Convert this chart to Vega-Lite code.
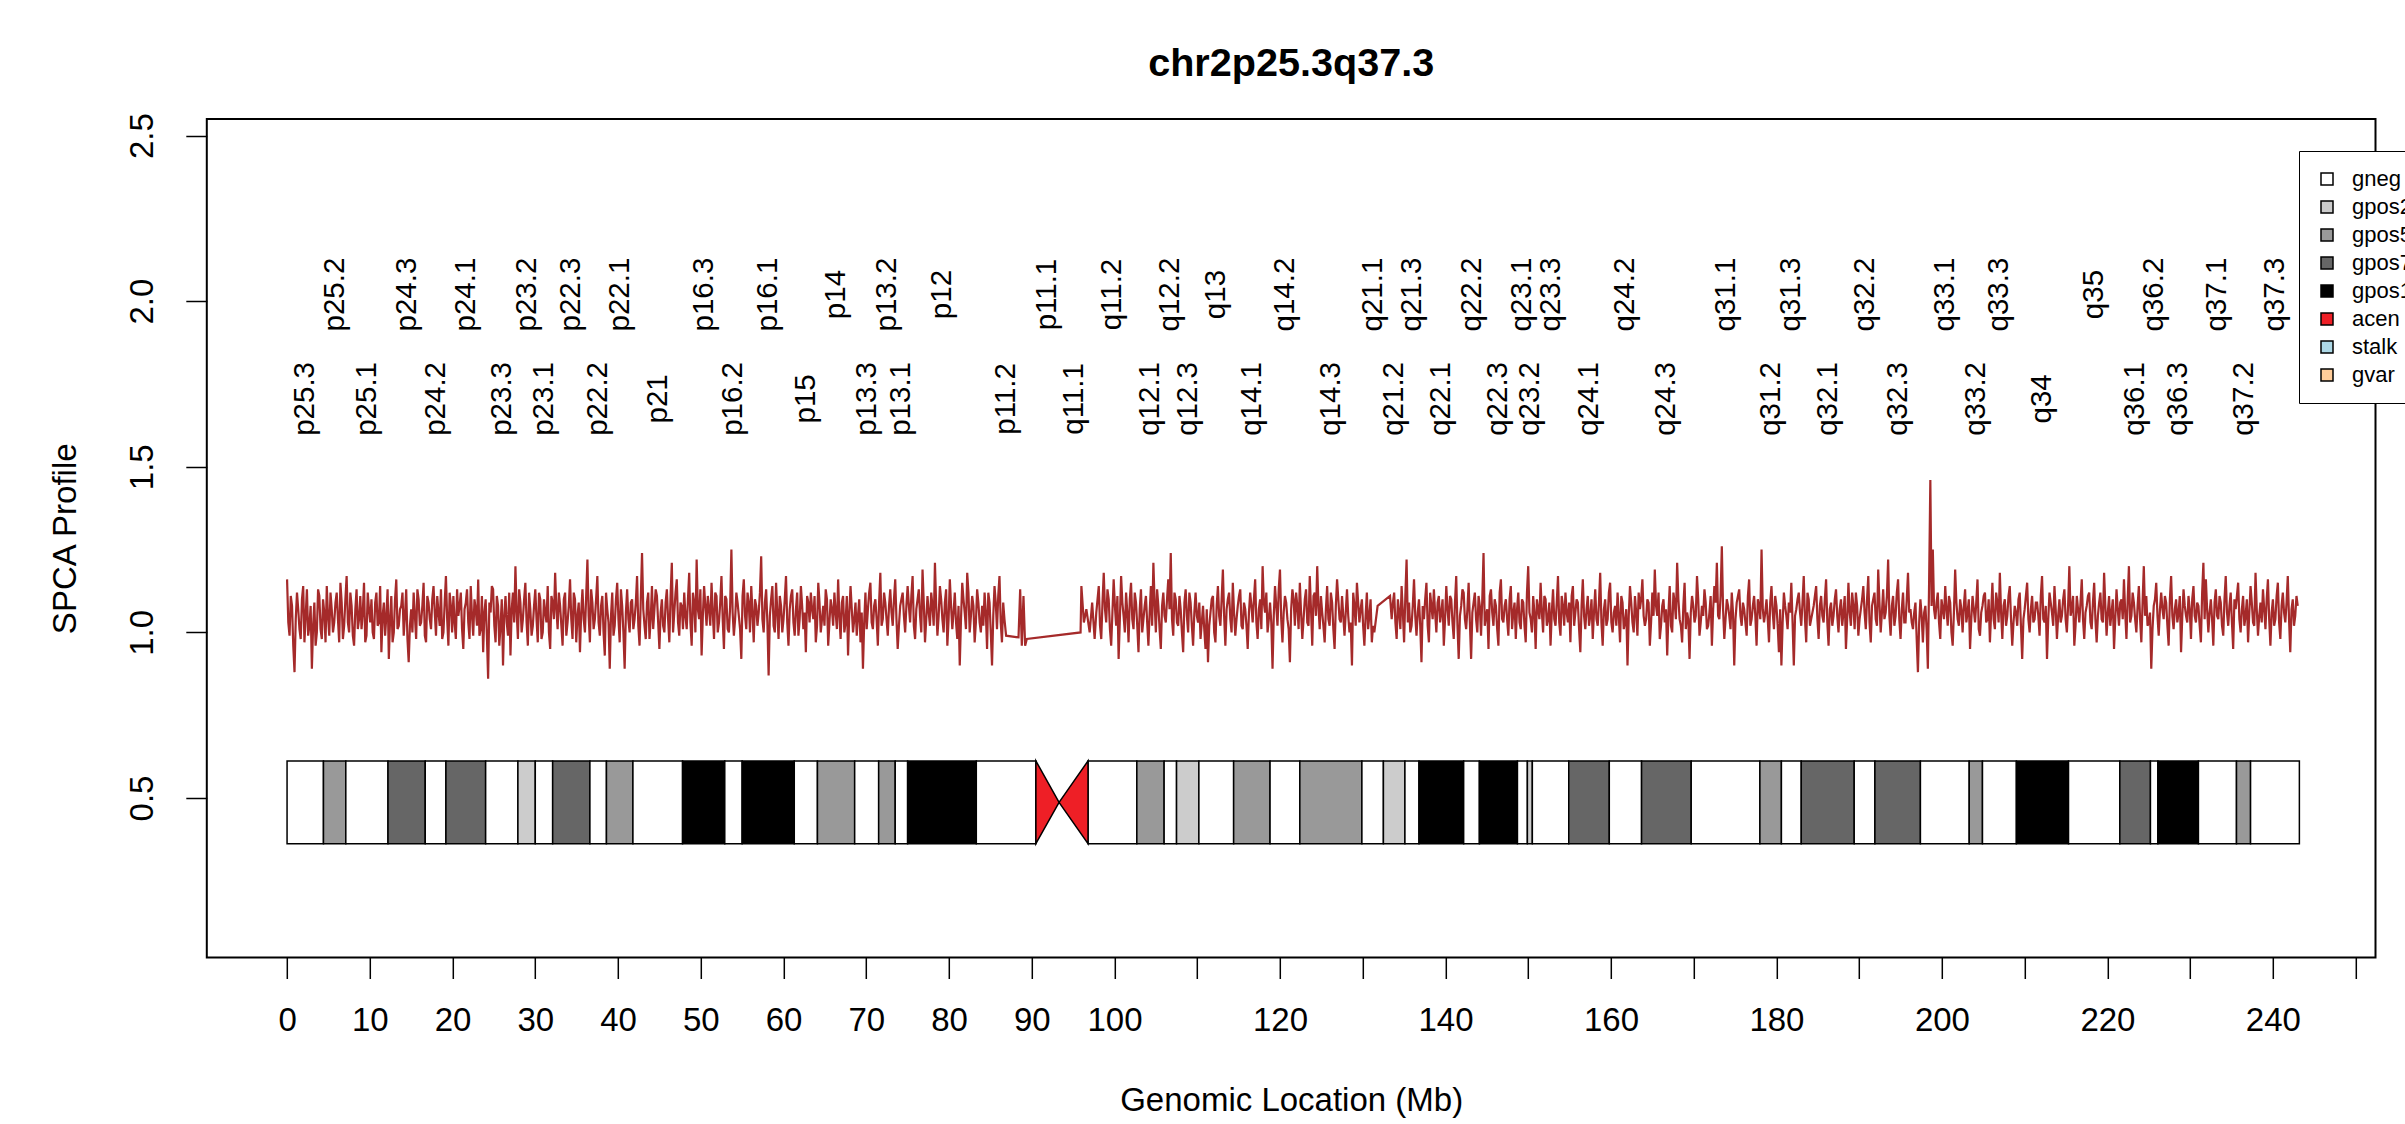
{
"$schema":"https://vega.github.io/schema/vega-lite/v6.json",
"width":2168.7,"height":838.5,
"autosize":{"type":"none"},
"padding":{"left":206.8,"top":119,"right":29.5,"bottom":166.5},
"background":"white",
"config":{"view":{"stroke":"black","strokeWidth":2},"font":"Liberation Sans"},
"title":{"text":"chr2p25.3q37.3","fontSize":39.6,"fontWeight":"bold","font":"Liberation Sans","anchor":"middle","frame":"group","baseline":"alphabetic","offset":-3,"color":"black"},
"datasets":{
"bands":[
{"name":"p25.3","start":0,"end":4.4,"stain":"gneg"},
{"name":"p25.2","start":4.4,"end":7.1,"stain":"gpos50"},
{"name":"p25.1","start":7.1,"end":12.2,"stain":"gneg"},
{"name":"p24.3","start":12.2,"end":16.7,"stain":"gpos75"},
{"name":"p24.2","start":16.7,"end":19.2,"stain":"gneg"},
{"name":"p24.1","start":19.2,"end":24.0,"stain":"gpos75"},
{"name":"p23.3","start":24.0,"end":27.9,"stain":"gneg"},
{"name":"p23.2","start":27.9,"end":30.0,"stain":"gpos25"},
{"name":"p23.1","start":30.0,"end":32.1,"stain":"gneg"},
{"name":"p22.3","start":32.1,"end":36.6,"stain":"gpos75"},
{"name":"p22.2","start":36.6,"end":38.6,"stain":"gneg"},
{"name":"p22.1","start":38.6,"end":41.8,"stain":"gpos50"},
{"name":"p21","start":41.8,"end":47.8,"stain":"gneg"},
{"name":"p16.3","start":47.8,"end":52.9,"stain":"gpos100"},
{"name":"p16.2","start":52.9,"end":55.0,"stain":"gneg"},
{"name":"p16.1","start":55.0,"end":61.3,"stain":"gpos100"},
{"name":"p15","start":61.3,"end":64.1,"stain":"gneg"},
{"name":"p14","start":64.1,"end":68.6,"stain":"gpos50"},
{"name":"p13.3","start":68.6,"end":71.5,"stain":"gneg"},
{"name":"p13.2","start":71.5,"end":73.5,"stain":"gpos50"},
{"name":"p13.1","start":73.5,"end":75.0,"stain":"gneg"},
{"name":"p12","start":75.0,"end":83.3,"stain":"gpos100"},
{"name":"p11.2","start":83.3,"end":90.5,"stain":"gneg"},
{"name":"p11.1","start":90.5,"end":93.3,"stain":"acen"},
{"name":"q11.1","start":93.3,"end":96.8,"stain":"acen"},
{"name":"q11.2","start":96.8,"end":102.7,"stain":"gneg"},
{"name":"q12.1","start":102.7,"end":106.0,"stain":"gpos50"},
{"name":"q12.2","start":106.0,"end":107.5,"stain":"gneg"},
{"name":"q12.3","start":107.5,"end":110.2,"stain":"gpos25"},
{"name":"q13","start":110.2,"end":114.4,"stain":"gneg"},
{"name":"q14.1","start":114.4,"end":118.8,"stain":"gpos50"},
{"name":"q14.2","start":118.8,"end":122.4,"stain":"gneg"},
{"name":"q14.3","start":122.4,"end":129.9,"stain":"gpos50"},
{"name":"q21.1","start":129.9,"end":132.5,"stain":"gneg"},
{"name":"q21.2","start":132.5,"end":135.1,"stain":"gpos25"},
{"name":"q21.3","start":135.1,"end":136.8,"stain":"gneg"},
{"name":"q22.1","start":136.8,"end":142.2,"stain":"gpos100"},
{"name":"q22.2","start":142.2,"end":144.1,"stain":"gneg"},
{"name":"q22.3","start":144.1,"end":148.7,"stain":"gpos100"},
{"name":"q23.1","start":148.7,"end":149.9,"stain":"gneg"},
{"name":"q23.2","start":149.9,"end":150.5,"stain":"gpos25"},
{"name":"q23.3","start":150.5,"end":154.9,"stain":"gneg"},
{"name":"q24.1","start":154.9,"end":159.8,"stain":"gpos75"},
{"name":"q24.2","start":159.8,"end":163.7,"stain":"gneg"},
{"name":"q24.3","start":163.7,"end":169.7,"stain":"gpos75"},
{"name":"q31.1","start":169.7,"end":178.0,"stain":"gneg"},
{"name":"q31.2","start":178.0,"end":180.6,"stain":"gpos50"},
{"name":"q31.3","start":180.6,"end":183.0,"stain":"gneg"},
{"name":"q32.1","start":183.0,"end":189.4,"stain":"gpos75"},
{"name":"q32.2","start":189.4,"end":191.9,"stain":"gneg"},
{"name":"q32.3","start":191.9,"end":197.4,"stain":"gpos75"},
{"name":"q33.1","start":197.4,"end":203.3,"stain":"gneg"},
{"name":"q33.2","start":203.3,"end":204.9,"stain":"gpos50"},
{"name":"q33.3","start":204.9,"end":209.0,"stain":"gneg"},
{"name":"q34","start":209.0,"end":215.3,"stain":"gpos100"},
{"name":"q35","start":215.3,"end":221.5,"stain":"gneg"},
{"name":"q36.1","start":221.5,"end":225.2,"stain":"gpos75"},
{"name":"q36.2","start":225.2,"end":226.1,"stain":"gneg"},
{"name":"q36.3","start":226.1,"end":231.0,"stain":"gpos100"},
{"name":"q37.1","start":231.0,"end":235.6,"stain":"gneg"},
{"name":"q37.2","start":235.6,"end":237.3,"stain":"gpos50"},
{"name":"q37.3","start":237.3,"end":243.2,"stain":"gneg"}
],
"cen":[
{"pos":90.5,"hi":0.612,"lo":0.362},
{"pos":93.3,"hi":0.487,"lo":0.487},
{"pos":96.8,"hi":0.612,"lo":0.362}
]
},
"layer":[
{"mark":{"type":"rule","color":"#BEBEBE","strokeWidth":2},
 "encoding":{"y":{"datum":1,"type":"quantitative","scale":{"domain":[0.0185,2.55],"nice":false,"zero":false}}}},
{"data":{"values":"p,v\n0,1.16\n0.3,0.99\n0.6,1.08\n0.9,0.88\n1.2,1.12\n1.5,1.01\n1.8,1.10\n2.1,0.97\n2.4,1.13\n2.7,1.02\n3,0.89\n3.3,1.09\n3.6,1.00\n3.9,1.11\n4.2,0.98\n4.5,1.06\n4.8,1.14\n5.1,0.99\n5.4,1.07\n5.7,1.03\n6,1.12\n6.3,0.97\n6.6,1.09\n6.9,1.02\n7.2,1.17\n7.5,1.00\n7.8,1.08\n8.1,0.96\n8.4,1.13\n8.7,1.04\n9,1.01\n9.3,1.15\n9.6,0.99\n9.9,1.07\n10.2,1.10\n10.5,0.98\n10.8,1.12\n11.1,1.03\n11.4,0.94\n11.7,1.09\n12,1.05\n12.3,0.92\n12.6,1.11\n12.9,1.00\n13.2,1.16\n13.5,1.02\n13.8,1.08\n14.1,0.99\n14.4,1.13\n14.7,0.91\n15,1.07\n15.3,1.12\n15.6,0.98\n15.9,1.10\n16.2,1.03\n16.5,1.15\n16.8,0.97\n17.1,1.09\n17.4,1.01\n17.7,1.14\n18,0.99\n18.3,1.06\n18.6,1.13\n18.9,1.00\n19.2,1.17\n19.5,0.96\n19.8,1.08\n20.1,1.11\n20.4,0.98\n20.7,1.05\n21,1.12\n21.3,0.95\n21.6,1.09\n21.9,1.03\n22.2,1.14\n22.5,0.99\n22.8,1.07\n23.1,1.16\n23.4,1.01\n23.7,0.94\n24,1.10\n24.3,0.86\n24.6,1.06\n24.9,1.13\n25.2,0.97\n25.5,1.08\n25.8,1.02\n26.1,0.90\n26.4,1.11\n26.7,0.99\n27,0.93\n27.3,1.12\n27.6,1.20\n27.9,0.98\n28.2,1.09\n28.5,1.04\n28.8,1.15\n29.1,0.96\n29.4,1.07\n29.7,1.02\n30,1.13\n30.3,0.97\n30.6,1.10\n30.9,1.00\n31.2,1.06\n31.5,1.14\n31.8,0.95\n32.1,1.09\n32.4,1.18\n32.7,1.01\n33,1.08\n33.3,0.96\n33.6,1.12\n33.9,1.03\n34.2,1.16\n34.5,0.98\n34.8,1.10\n35.1,1.05\n35.4,0.94\n35.7,1.13\n36,1.00\n36.3,1.22\n36.6,0.97\n36.9,1.09\n37.2,1.04\n37.5,1.17\n37.8,0.99\n38.1,1.11\n38.4,0.93\n38.7,1.07\n39,0.89\n39.3,1.12\n39.6,1.02\n39.9,1.15\n40.2,0.97\n40.5,1.08\n40.8,0.89\n41.1,1.13\n41.4,1.00\n41.7,1.10\n42,1.04\n42.3,1.17\n42.6,0.96\n42.9,1.24\n43.2,1.02\n43.5,1.09\n43.8,0.98\n44.1,1.14\n44.4,1.07\n44.7,1.11\n45,0.95\n45.3,1.10\n45.6,1.00\n45.9,1.13\n46.2,0.97\n46.5,1.21\n46.8,1.06\n47.1,1.16\n47.4,0.99\n47.7,1.08\n48,1.12\n48.3,1.01\n48.6,1.18\n48.9,0.96\n49.2,1.09\n49.5,1.22\n49.8,1.04\n50.1,0.93\n50.4,1.14\n50.7,1.02\n51,1.07\n51.3,1.15\n51.6,0.98\n51.9,1.11\n52.2,1.03\n52.5,1.17\n52.8,0.95\n53.1,1.10\n53.4,1.00\n53.7,1.25\n54,0.99\n54.3,1.12\n54.6,1.05\n54.9,0.92\n55.2,1.16\n55.5,1.01\n55.8,1.09\n56.1,1.14\n56.4,0.97\n56.7,1.08\n57,1.06\n57.3,1.23\n57.6,1.00\n57.9,1.13\n58.2,0.87\n58.5,1.10\n58.8,1.02\n59.1,1.15\n59.4,0.98\n59.7,1.08\n60,1.04\n60.3,1.17\n60.6,0.96\n60.9,1.11\n61.2,1.03\n61.5,1.07\n61.8,0.99\n62.1,1.14\n62.4,1.01\n62.7,0.94\n63,1.09\n63.3,1.12\n63.6,1.04\n63.9,0.97\n64.2,1.15\n64.5,1.00\n64.8,1.08\n65.1,1.13\n65.4,0.96\n65.7,1.10\n66,1.02\n66.3,1.06\n66.6,1.16\n66.9,0.98\n67.2,1.11\n67.5,1.03\n67.8,0.93\n68.1,1.14\n68.4,1.00\n68.7,1.09\n69,1.05\n69.3,0.97\n69.6,0.89\n69.9,1.12\n70.2,1.07\n70.5,1.15\n70.8,1.01\n71.1,1.10\n71.4,0.96\n71.7,1.18\n72,1.04\n72.3,1.09\n72.6,0.99\n72.9,1.13\n73.2,1.02\n73.5,1.16\n73.8,0.95\n74.1,1.08\n74.4,1.12\n74.7,1.00\n75,1.14\n75.3,1.03\n75.6,1.17\n75.9,0.98\n76.2,1.10\n76.5,1.05\n76.8,1.19\n77.1,0.97\n77.4,1.11\n77.7,1.02\n78,1.08\n78.3,1.21\n78.6,0.99\n78.9,1.14\n79.2,1.04\n79.5,1.09\n79.8,0.96\n80.1,1.16\n80.4,1.01\n80.7,1.12\n81,0.98\n81.3,0.90\n81.6,1.15\n81.9,1.06\n82.2,1.18\n82.5,1.00\n82.8,1.11\n83.1,0.97\n83.4,1.13\n83.7,1.03\n84,1.08\n84.3,1.12\n84.6,0.95\n84.9,1.09\n85.2,0.90\n85.5,1.14\n85.8,1.01\n86.1,1.17\n86.4,0.97\n86.7,1.04\n86.9,0.99\n88.4,0.985\n88.6,1.13\n88.8,0.96\n89.0,1.11\n89.2,0.96\n89.4,0.98\n95.9,1.00\n96.0,1.14\n96.3,1.03\n96.6,1.07\n97.0,1.00\n97.3,1.09\n97.6,0.98\n97.8,1.06\n98.1,1.14\n98.4,0.98\n98.7,1.18\n99.0,1.03\n99.3,1.10\n99.6,0.96\n99.9,1.16\n100.2,1.02\n100.5,0.92\n100.8,1.17\n101.1,1.05\n101.4,1.12\n101.7,0.97\n102.0,1.15\n102.3,1.01\n102.6,1.09\n102.9,0.94\n103.2,1.13\n103.5,1.04\n103.8,1.11\n104.1,0.96\n104.4,1.14\n104.7,1.21\n105.0,1.00\n105.3,1.08\n105.6,0.95\n105.9,1.12\n106.2,1.03\n106.5,1.16\n106.8,1.24\n107.1,0.99\n107.4,1.10\n107.7,1.02\n108.0,1.07\n108.3,0.94\n108.6,1.13\n108.9,1.00\n109.2,1.09\n109.5,0.96\n109.8,1.12\n110.1,1.03\n110.4,0.98\n110.7,1.08\n111.0,0.95\n111.3,0.91\n111.6,1.06\n111.9,1.11\n112.2,0.97\n112.5,1.14\n112.8,1.02\n113.1,1.19\n113.4,0.96\n113.7,1.10\n114.0,1.04\n114.3,1.15\n114.6,0.99\n114.9,1.08\n115.2,1.13\n115.5,1.01\n115.8,1.07\n116.1,0.95\n116.4,1.12\n116.7,1.03\n117.0,1.16\n117.3,0.98\n117.6,1.10\n117.9,1.20\n118.2,1.06\n118.5,1.00\n118.8,1.09\n119.1,0.89\n119.4,1.14\n119.7,1.02\n120.0,1.19\n120.3,0.97\n120.6,1.11\n120.9,1.04\n121.2,0.91\n121.5,1.13\n121.8,1.02\n122.1,1.08\n122.4,1.15\n122.7,0.98\n123.0,1.10\n123.3,1.03\n123.6,1.17\n123.9,0.96\n124.2,1.12\n124.5,1.20\n124.8,1.01\n125.1,1.06\n125.4,0.97\n125.7,1.14\n126.0,1.02\n126.3,1.09\n126.6,0.95\n126.9,1.16\n127.2,1.04\n127.5,1.11\n127.8,0.99\n128.1,1.13\n128.4,1.00\n128.7,0.90\n129.0,1.08\n129.3,1.15\n129.6,1.03\n129.9,1.10\n130.2,0.96\n130.5,1.12\n130.8,1.05\n131.1,0.97\n131.4,1.00\n131.8,1.08\n133.3,1.11\n133.5,1.04\n133.8,1.12\n134.1,0.98\n134.4,1.06\n134.7,1.14\n135.0,0.97\n135.3,1.22\n135.6,1.09\n135.9,1.02\n136.2,1.16\n136.5,0.99\n136.8,1.10\n137.1,0.91\n137.4,1.04\n137.7,1.15\n138.0,0.97\n138.3,1.08\n138.6,1.13\n138.9,1.00\n139.2,1.11\n139.5,1.06\n139.8,0.96\n140.1,1.14\n140.4,1.02\n140.7,1.10\n141.0,0.98\n141.3,1.17\n141.6,0.92\n141.9,1.08\n142.2,1.12\n142.5,1.01\n142.8,1.15\n143.1,0.92\n143.4,1.09\n143.7,1.04\n144.0,1.11\n144.3,0.99\n144.6,1.24\n144.9,1.05\n145.2,0.95\n145.5,1.13\n145.8,1.02\n146.1,1.08\n146.4,0.96\n146.7,1.16\n147.0,1.03\n147.3,1.10\n147.6,0.99\n147.9,1.14\n148.2,1.06\n148.5,0.98\n148.8,1.12\n149.1,1.01\n149.4,1.09\n149.7,0.97\n150.0,1.20\n150.3,1.04\n150.6,1.11\n150.9,0.95\n151.2,1.07\n151.5,1.15\n151.8,1.00\n152.1,1.10\n152.4,1.04\n152.7,0.96\n153.0,1.13\n153.3,1.02\n153.6,1.17\n153.9,0.99\n154.2,1.08\n154.5,1.12\n154.8,1.03\n155.1,0.97\n155.4,1.14\n155.7,1.06\n156.0,1.09\n156.3,0.94\n156.6,1.16\n156.9,1.01\n157.2,1.11\n157.5,1.05\n157.8,0.98\n158.1,1.13\n158.4,1.02\n158.7,1.18\n159.0,0.96\n159.3,1.10\n159.6,1.04\n159.9,1.15\n160.2,1.00\n160.5,1.08\n160.8,1.12\n161.1,0.97\n161.4,1.09\n161.7,1.03\n162.0,0.90\n162.3,1.14\n162.6,1.03\n162.9,1.11\n163.2,0.99\n163.5,1.07\n163.8,1.16\n164.1,1.02\n164.4,1.10\n164.7,0.96\n165.0,1.12\n165.3,1.19\n165.6,1.05\n165.9,0.98\n166.2,1.08\n166.5,1.03\n166.8,0.93\n167.1,1.14\n167.4,1.00\n167.7,1.09\n168.0,1.21\n168.3,1.04\n168.6,0.97\n168.9,1.15\n169.2,1.06\n169.5,0.92\n169.8,1.11\n170.1,1.03\n170.4,1.17\n170.7,0.99\n171.0,1.08\n171.3,1.13\n171.6,1.01\n171.9,1.06\n172.2,0.96\n172.5,1.14\n172.8,1.21\n173.1,1.04\n173.4,1.26\n173.7,0.98\n174.0,1.10\n174.3,1.05\n174.6,1.12\n174.9,0.90\n175.2,1.09\n175.5,1.13\n175.8,1.02\n176.1,1.07\n176.4,0.99\n176.7,1.16\n177.0,1.04\n177.3,1.11\n177.6,0.96\n177.9,1.08\n178.2,1.25\n178.5,1.03\n178.8,1.10\n179.1,0.97\n179.4,1.14\n179.7,1.01\n180.0,1.08\n180.3,0.94\n180.6,0.90\n180.9,1.12\n181.2,1.05\n181.5,1.09\n181.8,1.15\n182.1,0.90\n182.4,1.07\n182.7,1.12\n183.0,1.02\n183.3,1.17\n183.6,0.97\n183.9,1.10\n184.2,1.04\n184.5,1.08\n184.8,1.14\n185.1,0.98\n185.4,1.11\n185.7,1.03\n186.0,1.16\n186.3,0.96\n186.6,1.09\n186.9,1.05\n187.2,1.13\n187.5,1.00\n187.8,1.10\n188.1,1.06\n188.4,0.95\n188.7,1.15\n189.0,1.02\n189.3,1.08\n189.6,1.12\n189.9,0.99\n190.2,1.07\n190.5,1.14\n190.8,1.01\n191.1,1.17\n191.4,0.97\n191.7,1.10\n192.0,1.04\n192.3,1.19\n192.6,1.00\n192.9,1.13\n193.2,1.06\n193.5,1.22\n193.8,0.99\n194.1,1.11\n194.4,1.05\n194.7,1.16\n195.0,0.98\n195.3,1.12\n195.6,1.03\n195.9,1.18\n196.2,1.07\n196.5,1.01\n196.8,1.09\n197.1,0.88\n197.4,1.10\n197.7,0.97\n198.0,1.08\n198.3,0.89\n198.6,1.46\n198.9,1.25\n199.2,1.04\n199.5,1.12\n199.8,0.98\n200.1,1.07\n200.4,1.14\n200.7,1.02\n201.0,1.09\n201.3,0.96\n201.6,1.19\n201.9,1.04\n202.2,1.10\n202.5,1.00\n202.8,1.13\n203.1,1.06\n203.4,0.95\n203.7,1.11\n204.0,1.03\n204.3,1.16\n204.6,0.99\n204.9,1.08\n205.2,1.12\n205.5,1.04\n205.8,0.97\n206.1,1.15\n206.4,1.01\n206.7,1.09\n207.0,1.18\n207.3,0.98\n207.6,1.10\n207.9,1.05\n208.2,1.14\n208.5,0.96\n208.8,1.08\n209.1,1.02\n209.4,1.12\n209.7,0.92\n210.0,1.07\n210.3,1.15\n210.6,1.00\n210.9,1.11\n211.2,1.04\n211.5,1.09\n211.8,0.99\n212.1,1.17\n212.4,1.03\n212.7,0.92\n213.0,1.12\n213.3,1.06\n213.6,1.14\n213.9,0.98\n214.2,1.10\n214.5,1.05\n214.8,1.13\n215.1,1.00\n215.4,1.20\n215.7,1.07\n216.0,0.96\n216.3,1.11\n216.6,1.03\n216.9,1.16\n217.2,0.98\n217.5,1.08\n217.8,1.12\n218.1,1.01\n218.4,1.15\n218.7,0.97\n219.0,1.09\n219.3,1.04\n219.6,1.18\n219.9,0.99\n220.2,1.11\n220.5,1.06\n220.8,0.95\n221.1,1.13\n221.4,1.02\n221.7,1.10\n222.0,1.16\n222.3,0.98\n222.6,1.20\n222.9,1.05\n223.2,1.09\n223.5,1.00\n223.8,1.14\n224.1,0.97\n224.4,1.20\n224.7,1.11\n225.0,1.03\n225.3,0.89\n225.6,1.08\n225.9,1.15\n226.2,0.99\n226.5,1.12\n226.8,1.04\n227.1,1.09\n227.4,0.96\n227.7,1.17\n228.0,1.01\n228.3,1.10\n228.6,1.06\n228.9,0.94\n229.2,1.13\n229.5,1.05\n229.8,1.11\n230.1,0.98\n230.4,1.14\n230.7,1.03\n231.0,1.08\n231.3,0.97\n231.6,1.21\n231.9,1.16\n232.2,1.00\n232.5,1.10\n232.8,0.96\n233.1,1.13\n233.4,1.04\n233.7,1.09\n234.0,0.99\n234.3,1.17\n234.6,1.02\n234.9,1.12\n235.2,0.95\n235.5,1.07\n235.8,1.15\n236.1,1.00\n236.4,1.11\n236.7,1.05\n237.0,0.97\n237.3,1.14\n237.6,1.03\n237.9,1.18\n238.2,0.99\n238.5,1.09\n238.8,1.13\n239.1,1.01\n239.4,1.16\n239.7,0.96\n240.0,1.10\n240.3,1.04\n240.6,1.15\n240.9,0.98\n241.2,1.12\n241.5,1.03\n241.8,1.17\n242.1,0.94\n242.4,1.10\n242.7,1.05\n243.0,1.08\n0.15,1.03\n0.45,1.11\n0.75,0.96\n1.05,1.04\n1.35,1.07\n1.65,0.98\n1.95,1.14\n2.25,1.05\n2.55,0.99\n2.85,1.08\n3.15,1.02\n3.45,0.96\n3.75,1.13\n4.05,1.01\n4.35,1.10\n4.65,0.97\n4.95,1.05\n5.25,1.12\n5.55,1.00\n5.85,1.09\n6.15,1.04\n6.45,1.15\n6.75,0.98\n7.05,1.10\n7.35,1.03\n7.65,1.12\n7.95,0.99\n8.25,1.07\n8.55,1.01\n8.85,1.11\n9.15,1.06\n9.45,0.97\n9.75,1.12\n10.05,1.03\n10.35,1.00\n10.65,1.09\n10.95,1.02\n11.25,1.14\n11.55,1.05\n11.85,0.99\n12.15,1.13\n12.45,1.04\n12.75,0.97\n13.05,1.10\n13.35,1.01\n13.65,1.07\n13.95,1.12\n14.25,1.05\n14.55,0.98\n14.85,1.02\n15.15,1.00\n15.45,1.05\n15.75,1.13\n16.05,1.02\n16.35,1.08\n16.65,0.99\n16.95,1.11\n17.25,1.04\n17.55,1.10\n17.85,1.06\n18.15,1.11\n18.45,1.02\n18.75,0.98\n19.05,1.09\n19.35,1.04\n19.65,1.12\n19.95,1.00\n20.25,1.03\n20.55,1.13\n20.85,1.08\n21.15,1.01\n21.45,1.07\n21.75,1.13\n22.05,0.98\n22.35,1.05\n22.65,1.10\n22.95,1.02\n23.25,0.99\n23.55,1.11\n23.85,1.06\n24.15,0.99\n24.45,1.09\n24.75,1.14\n25.05,1.02\n25.35,1.11\n25.65,0.96\n25.95,1.10\n26.25,1.05\n26.55,1.03\n26.85,1.12\n27.15,1.07\n27.45,1.03\n27.75,1.06\n28.05,1.13\n28.35,1.00\n28.65,1.10\n28.95,1.03\n29.25,1.12\n29.55,0.99\n29.85,1.08\n30.15,1.04\n30.45,1.12\n30.75,0.98\n31.05,1.10\n31.35,1.03\n31.65,1.00\n31.95,1.11\n32.25,1.04\n32.55,1.07\n32.85,1.12\n33.15,1.02\n33.45,1.10\n33.75,0.99\n34.05,1.08\n34.35,1.04\n34.65,1.12\n34.95,0.97\n35.25,1.09\n35.55,1.06\n35.85,1.04\n36.15,1.11\n36.45,1.05\n36.75,1.13\n37.05,1.01\n37.35,1.10\n37.65,1.03\n37.95,1.08\n38.25,1.00\n38.55,1.12\n38.85,1.03\n39.15,1.05\n39.45,0.99\n39.75,1.10\n40.05,1.04\n40.35,1.13\n40.65,1.00\n40.95,1.06\n41.25,1.04\n41.55,1.09\n41.85,1.01\n42.15,1.09\n42.45,1.02\n42.75,1.10\n43.05,1.07\n43.35,0.98\n43.65,1.12\n43.95,1.04\n44.25,1.01\n44.55,1.13\n44.85,1.03\n45.15,1.06\n45.45,1.02\n45.75,1.09\n46.05,1.04\n46.35,1.11\n46.65,1.00\n46.95,1.12\n47.25,1.03\n47.55,1.09\n47.85,1.01\n48.15,1.05\n48.45,1.10\n48.75,1.03\n49.05,1.12\n49.35,1.00\n49.65,1.07\n49.95,1.13\n50.25,1.05\n50.55,1.08\n50.85,1.11\n51.15,1.02\n51.45,1.06\n51.75,1.12\n52.05,1.00\n52.35,1.09\n52.65,1.04\n52.95,1.11\n53.25,1.01\n53.55,1.08\n53.85,1.06\n54.15,1.04\n54.45,1.09\n54.75,1.01\n55.05,1.11\n55.35,1.05\n55.65,1.12\n55.95,1.00\n56.25,1.06\n56.55,1.10\n56.85,1.02\n57.15,1.12\n57.45,1.04\n57.75,1.09\n58.05,1.03\n58.35,1.05\n58.65,1.14\n58.95,1.00\n59.25,1.06\n59.55,1.11\n59.85,1.00\n60.15,1.10\n60.45,1.03\n60.75,1.07\n61.05,1.13\n61.35,0.99\n61.65,1.12\n61.95,1.04\n62.25,1.08\n62.55,1.06\n62.85,1.11\n63.15,1.03\n63.45,1.07\n63.75,1.11\n64.05,1.02\n64.35,1.09\n64.65,1.04\n64.95,1.02\n65.25,1.10\n65.55,1.03\n65.85,1.07\n66.15,1.12\n66.45,1.01\n66.75,1.05\n67.05,1.09\n67.35,1.00\n67.65,1.11\n67.95,1.06\n68.25,1.07\n68.55,1.04\n68.85,0.99\n69.15,1.10\n69.45,1.06\n69.75,1.03\n70.05,1.01\n70.35,1.12\n70.65,1.03\n70.95,1.08\n71.25,1.04\n71.55,1.09\n71.85,1.02\n72.15,1.12\n72.45,1.04\n72.75,1.08\n73.05,1.06\n73.35,1.10\n73.65,1.04\n73.95,1.02\n74.25,1.10\n74.55,1.05\n74.85,1.08\n75.15,1.08\n75.45,1.11\n75.75,1.02\n76.05,1.07\n76.35,1.13\n76.65,1.00\n76.95,1.09\n77.25,1.04\n77.55,1.06\n77.85,1.12\n78.15,1.02\n78.45,1.08\n78.75,1.05\n79.05,1.10\n79.35,1.00\n79.65,1.13\n79.95,1.04\n80.25,1.08\n80.55,1.06\n80.85,1.03\n81.15,1.08\n81.45,1.04\n81.75,1.10\n82.05,1.01\n82.35,1.12\n82.65,1.05\n82.95,1.08\n83.25,1.03\n83.55,1.09\n83.85,1.00\n84.15,1.02\n84.45,1.06\n84.75,1.12\n85.05,1.00\n85.35,1.05\n85.65,1.09\n85.95,1.11\n86.25,1.03\n86.55,1.09\n97.95,1.10\n98.25,1.02\n98.55,1.09\n98.85,1.07\n99.15,1.13\n99.45,1.01\n99.75,1.06\n100.05,1.08\n100.35,1.11\n100.65,1.04\n100.95,1.09\n101.25,1.00\n101.55,1.06\n101.85,1.10\n102.15,1.04\n102.45,1.12\n102.75,1.02\n103.05,1.07\n103.35,1.00\n103.65,1.08\n103.95,1.03\n104.25,1.06\n104.55,1.02\n104.85,1.09\n105.15,1.13\n105.45,1.01\n105.75,1.08\n106.05,1.05\n106.35,1.10\n106.65,1.07\n106.95,1.04\n107.25,1.12\n107.55,1.03\n107.85,1.11\n108.15,1.00\n108.45,1.09\n108.75,1.05\n109.05,1.12\n109.35,1.02\n109.65,1.06\n109.95,1.05\n110.25,1.09\n110.55,1.03\n110.85,1.01\n111.15,1.07\n111.45,1.02\n111.75,1.10\n112.05,1.00\n112.35,1.08\n112.65,1.05\n112.95,1.10\n113.25,1.05\n113.55,1.07\n113.85,1.12\n114.15,1.00\n114.45,1.06\n114.75,1.04\n115.05,1.11\n115.35,1.02\n115.65,1.09\n115.95,1.02\n116.25,1.06\n116.55,1.08\n116.85,1.10\n117.15,1.03\n117.45,1.07\n117.75,1.01\n118.05,1.09\n118.35,1.12\n118.65,1.04\n118.95,1.03\n119.25,1.05\n119.55,1.08\n119.85,1.13\n120.15,1.04\n120.45,1.06\n120.75,1.09\n121.05,1.01\n121.35,1.07\n121.65,1.10\n121.95,1.12\n122.25,1.01\n122.55,1.06\n122.85,1.04\n123.15,1.13\n123.45,1.02\n123.75,1.07\n124.05,1.11\n124.35,1.05\n124.65,1.08\n124.95,1.11\n125.25,1.02\n125.55,1.07\n125.85,1.04\n126.15,1.12\n126.45,1.01\n126.75,1.08\n127.05,1.10\n127.35,1.03\n127.65,1.05\n127.95,1.06\n128.25,1.05\n128.55,1.03\n128.85,1.12\n129.15,1.02\n129.45,1.09\n129.75,1.07\n130.05,1.02\n130.35,1.05\n130.65,1.01\n130.95,1.10\n131.25,1.02\n133.65,1.09\n133.95,1.03\n134.25,1.10\n134.55,1.01\n134.85,1.06\n135.15,1.11\n135.45,1.03\n135.75,1.00\n136.05,1.08\n136.35,1.05\n136.65,1.06\n136.95,1.02\n137.25,1.08\n137.55,1.10\n137.85,1.02\n138.15,1.12\n138.45,1.04\n138.75,1.06\n139.05,1.09\n139.35,1.03\n139.65,1.10\n139.95,1.04\n140.25,1.07\n140.55,1.11\n140.85,1.03\n141.15,1.09\n141.45,1.02\n141.75,1.05\n142.05,1.13\n142.35,1.04\n142.65,1.07\n142.95,1.03\n143.25,1.06\n143.55,1.12\n143.85,1.00\n144.15,1.08\n144.45,1.10\n144.75,1.02\n145.05,1.07\n145.35,1.11\n145.65,1.06\n145.95,1.10\n146.25,1.01\n146.55,1.12\n146.85,1.04\n147.15,1.08\n147.45,1.04\n147.75,1.10\n148.05,1.01\n148.35,1.09\n148.65,1.07\n148.95,1.03\n149.25,1.10\n149.55,1.02\n149.85,1.12\n150.15,1.06\n150.45,1.00\n150.75,1.06\n151.05,1.10\n151.35,1.04\n151.65,1.06\n151.95,1.11\n152.25,1.02\n152.55,1.09\n152.85,1.06\n153.15,1.04\n153.45,1.09\n153.75,1.03\n154.05,1.11\n154.35,1.02\n154.65,1.06\n154.95,1.09\n155.25,1.11\n155.55,1.02\n155.85,1.10\n156.15,1.01\n156.45,1.08\n156.75,1.05\n157.05,1.07\n157.35,1.02\n157.65,1.10\n157.95,1.06\n158.25,1.04\n158.55,1.09\n158.85,1.03\n159.15,1.07\n159.45,1.02\n159.75,1.12\n160.05,1.03\n160.35,1.06\n160.65,1.02\n160.95,1.05\n161.25,1.11\n161.55,1.01\n161.85,1.07\n162.15,1.05\n162.45,1.09\n162.75,1.00\n163.05,1.06\n163.35,1.12\n163.65,1.10\n163.95,1.05\n164.25,1.04\n164.55,1.09\n164.85,1.03\n165.15,1.05\n165.45,1.08\n165.75,1.12\n166.05,1.02\n166.35,1.10\n166.65,1.07\n166.95,1.06\n167.25,1.02\n167.55,1.12\n167.85,1.04\n168.15,1.10\n168.45,1.02\n168.75,1.08\n169.05,1.01\n169.35,1.04\n169.65,1.06\n169.95,1.08\n170.25,1.05\n170.55,1.10\n170.85,1.03\n171.15,1.05\n171.45,1.09\n171.75,1.02\n172.05,1.11\n172.35,1.07\n172.65,1.09\n172.95,1.05\n173.25,1.11\n173.55,1.07\n173.85,1.04\n174.15,1.08\n174.45,1.01\n174.75,1.06\n175.05,1.04\n175.35,1.11\n175.65,1.05\n175.95,1.09\n176.25,1.03\n176.55,1.11\n176.85,1.02\n177.15,1.08\n177.45,1.05\n177.75,1.10\n178.05,1.04\n178.35,1.07\n178.65,1.06\n178.95,1.04\n179.25,1.09\n179.55,1.06\n179.85,1.11\n180.15,1.02\n180.45,1.07\n180.75,1.03\n181.05,1.08\n181.35,1.01\n181.65,1.06\n181.95,1.03\n182.25,1.05\n182.55,1.10\n182.85,1.06\n183.15,1.09\n183.45,1.04\n183.75,1.12\n184.05,1.02\n184.35,1.06\n184.65,1.11\n184.95,1.04\n185.25,1.08\n185.55,1.05\n185.85,1.10\n186.15,1.03\n186.45,1.07\n186.75,1.02\n187.05,1.10\n187.35,1.05\n187.65,1.07\n187.95,1.02\n188.25,1.11\n188.55,1.04\n188.85,1.06\n189.15,1.12\n189.45,1.01\n189.75,1.08\n190.05,1.04\n190.35,1.10\n190.65,1.06\n190.95,1.10\n191.25,1.03\n191.55,1.08\n191.85,1.12\n192.15,1.02\n192.45,1.09\n192.75,1.06\n193.05,1.04\n193.35,1.11\n193.65,1.05\n193.95,1.08\n194.25,1.02\n194.55,1.12\n194.85,1.04\n195.15,1.07\n195.45,1.03\n195.75,1.10\n196.05,1.06\n196.35,1.03\n196.65,1.06\n196.95,0.98\n197.25,1.03\n197.55,1.05\n197.85,1.06\n198.15,1.01\n198.45,1.15\n198.75,1.08\n199.05,1.07\n199.35,1.09\n199.65,1.03\n199.95,1.10\n200.25,1.04\n200.55,1.07\n200.85,1.11\n201.15,1.00\n201.45,1.06\n201.75,1.09\n202.05,1.02\n202.35,1.07\n202.65,1.08\n202.95,1.03\n203.25,1.10\n203.55,1.04\n203.85,1.07\n204.15,1.09\n204.45,1.01\n204.75,1.06\n205.05,1.11\n205.35,1.03\n205.65,1.10\n205.95,1.06\n206.25,1.04\n206.55,1.12\n206.85,1.03\n207.15,1.06\n207.45,1.08\n207.75,1.02\n208.05,1.11\n208.35,1.04\n208.65,1.03\n208.95,1.06\n209.25,1.10\n209.55,1.02\n209.85,1.04\n210.15,1.11\n210.45,1.04\n210.75,1.07\n211.05,1.03\n211.35,1.09\n211.65,1.05\n211.95,1.11\n212.25,1.04\n212.55,1.08\n212.85,1.04\n213.15,1.09\n213.45,1.02\n213.75,1.07\n214.05,1.05\n214.35,1.03\n214.65,1.10\n214.95,1.04\n215.25,1.08\n215.55,1.05\n215.85,1.11\n216.15,1.02\n216.45,1.07\n216.75,1.09\n217.05,1.04\n217.35,1.06\n217.65,1.11\n217.95,1.03\n218.25,1.09\n218.55,1.04\n218.85,1.05\n219.15,1.12\n219.45,1.03\n219.75,1.08\n220.05,1.06\n220.35,1.02\n220.65,1.10\n220.95,1.04\n221.25,1.07\n221.55,1.09\n221.85,1.04\n222.15,1.06\n222.45,1.10\n222.75,1.03\n223.05,1.12\n223.35,1.04\n223.65,1.08\n223.95,1.04\n224.25,1.09\n224.55,1.05\n224.85,1.02\n225.15,1.06\n225.45,1.01\n225.75,1.10\n226.05,1.05\n226.35,1.07\n226.65,1.07\n226.95,1.11\n227.25,1.02\n227.55,1.10\n227.85,1.05\n228.15,1.07\n228.45,1.03\n228.75,1.11\n229.05,1.05\n229.35,1.08\n229.65,1.03\n229.95,1.07\n230.25,1.10\n230.55,1.05\n230.85,1.09\n231.15,1.02\n231.45,1.12\n231.75,1.04\n232.05,1.07\n232.35,1.06\n232.65,1.04\n232.95,1.09\n233.25,1.05\n233.55,1.11\n233.85,1.02\n234.15,1.10\n234.45,1.06\n234.75,1.08\n235.05,1.03\n235.35,1.10\n235.65,1.11\n235.95,1.04\n236.25,1.07\n236.55,1.02\n236.85,1.10\n237.15,1.06\n237.45,1.09\n237.75,1.02\n238.05,1.07\n238.35,1.05\n238.65,1.03\n238.95,1.07\n239.25,1.10\n239.55,1.04\n239.85,1.06\n240.15,1.02\n240.45,1.11\n240.75,1.03\n241.05,1.08\n241.35,1.06\n241.65,1.09\n241.95,1.04\n242.25,1.07\n242.55,1.02\n242.85,1.11","format":{"type":"csv","parse":{"p":"number","v":"number"}}},
 "mark":{"type":"line","color":"#A52A2A","strokeWidth":2.2},
 "encoding":{
  "x":{"field":"p","type":"quantitative","sort":"ascending","scale":{"domain":[-9.7,252.4],"nice":false,"zero":false},
   "axis":{"title":"Genomic Location (Mb)","values":[0,10,20,30,40,50,60,70,80,90,100,110,120,130,140,150,160,170,180,190,200,210,220,230,240,250],
    "labelExpr":"(datum.value <= 100 || (datum.value % 20 == 0 && datum.value <= 240)) ? datum.label : ''",
    "labelFontSize":33,"labelFont":"Liberation Sans","labelColor":"black","labelBaseline":"alphabetic","labelAlign":"center","labelAngle":0,"labelPadding":52,"labelOverlap":false,"labelFlush":false,
    "tickSize":21,"tickWidth":1.5,"tickColor":"black","domain":false,"grid":false,
    "titleFontSize":33,"titleFont":"Liberation Sans","titleFontWeight":"normal","titleColor":"black","titleBaseline":"alphabetic","titleAlign":"center","titleX":1084.35,"titleY":153}},
  "y":{"field":"v","type":"quantitative","scale":{"domain":[0.0185,2.55],"nice":false,"zero":false},
   "axis":{"title":"SPCA Profile","values":[0.5,1,1.5,2,2.5],"format":".1f",
    "labelFontSize":33,"labelFont":"Liberation Sans","labelColor":"black","labelAngle":270,"labelAlign":"center","labelBaseline":"alphabetic","labelPadding":33.8,
    "tickSize":21,"tickWidth":1.5,"tickColor":"black","domain":false,"grid":false,
    "titleFontSize":33,"titleFont":"Liberation Sans","titleFontWeight":"normal","titleColor":"black","titleAngle":270,"titleBaseline":"alphabetic","titleAlign":"center","titleX":-131,"titleY":419.25}}
 }},
{"data":{"name":"bands"},
 "transform":[{"filter":"datum.stain != 'acen'"}],
 "mark":{"type":"rect","stroke":"black","strokeWidth":1.5},
 "encoding":{
  "x":{"field":"start","type":"quantitative","scale":{"domain":[-9.7,252.4],"nice":false,"zero":false}},
  "x2":{"field":"end"},
  "y":{"datum":0.362,"type":"quantitative","scale":{"domain":[0.0185,2.55],"nice":false,"zero":false}},
  "y2":{"datum":0.612},
  "fill":{"field":"stain","type":"nominal",
   "scale":{"domain":["gneg","gpos25","gpos50","gpos75","gpos100","acen","stalk","gvar"],"range":["#FFFFFF","#CCCCCC","#999999","#666666","#000000","#EE1F26","#ADD8E6","#FFCC99"]},
   "legend":{"orient":"none","legendX":2092.2,"legendY":32,"title":null,"direction":"vertical","symbolType":"square","symbolSize":144,"symbolStrokeColor":"black","symbolStrokeWidth":1.5,"symbolOpacity":1,
    "labelFontSize":22,"labelFont":"Liberation Sans","labelColor":"black","labelOffset":14,"labelLimit":400,"rowPadding":6,"padding":17,"strokeColor":"black","fillColor":"white"}}
 }},
{"data":{"name":"cen"},
 "mark":{"type":"area","color":"#EE1F26","stroke":"black","strokeWidth":1.5,"opacity":1},
 "encoding":{
  "x":{"field":"pos","type":"quantitative","scale":{"domain":[-9.7,252.4],"nice":false,"zero":false}},
  "y":{"field":"hi","type":"quantitative","scale":{"domain":[0.0185,2.55],"nice":false,"zero":false}},
  "y2":{"field":"lo"}
 }},
{"data":{"name":"bands"},
 "transform":[{"fold":["start","end"],"as":["k","pos"]},{"aggregate":[{"op":"mean","field":"pos","as":"mid"}],"groupby":["name"]},{"window":[{"op":"row_number","as":"idx"}],"sort":[{"field":"mid","order":"ascending"}]},{"filter":"datum.idx % 2 == 1"}],
 "mark":{"type":"text","angle":270,"align":"center","baseline":"middle","fontSize":29.5,"font":"Liberation Sans","color":"black"},
 "encoding":{
  "x":{"field":"mid","type":"quantitative","scale":{"domain":[-9.7,252.4],"nice":false,"zero":false}},
  "y":{"datum":1.705,"type":"quantitative","scale":{"domain":[0.0185,2.55],"nice":false,"zero":false}},
  "text":{"field":"name"}
 }},
{"data":{"name":"bands"},
 "transform":[{"fold":["start","end"],"as":["k","pos"]},{"aggregate":[{"op":"mean","field":"pos","as":"mid"}],"groupby":["name"]},{"window":[{"op":"row_number","as":"idx"}],"sort":[{"field":"mid","order":"ascending"}]},{"filter":"datum.idx % 2 == 0"}],
 "mark":{"type":"text","angle":270,"align":"center","baseline":"middle","fontSize":29.5,"font":"Liberation Sans","color":"black"},
 "encoding":{
  "x":{"field":"mid","type":"quantitative","scale":{"domain":[-9.7,252.4],"nice":false,"zero":false}},
  "y":{"datum":2.02,"type":"quantitative","scale":{"domain":[0.0185,2.55],"nice":false,"zero":false}},
  "text":{"field":"name"}
 }}
]
}
